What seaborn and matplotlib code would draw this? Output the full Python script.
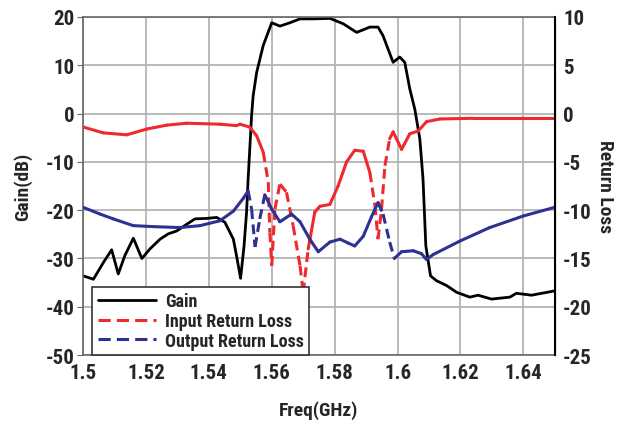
import numpy as np
import pandas as pd
import seaborn as sns
import matplotlib
matplotlib.use('Agg')
import matplotlib.pyplot as plt
from matplotlib.lines import Line2D
from matplotlib import font_manager

# ---- data ----
gain_freq = [1.5001, 1.5033, 1.5065, 1.5091, 1.5112, 1.5133, 1.5160, 1.5187, 1.5213,
             1.5245, 1.5271, 1.5298, 1.5330, 1.5356, 1.5393, 1.5425, 1.5451, 1.5478,
             1.5488, 1.5501, 1.5512, 1.5520, 1.5525, 1.5536, 1.5541, 1.5552, 1.5573,
             1.5600, 1.5626, 1.5658, 1.5690, 1.5732, 1.5785, 1.5827, 1.5870, 1.5912,
             1.5938, 1.5954, 1.5986, 1.6007, 1.6023, 1.6039, 1.6055, 1.6071, 1.6081,
             1.6090, 1.6105, 1.6124, 1.6156, 1.6188, 1.6230, 1.6256, 1.6299, 1.6357,
             1.6378, 1.6426, 1.6500]
gain_db = [-33.6, -34.3, -30.8, -28.2, -33.2, -29.4, -25.8, -30.0, -28.0,
           -26.0, -24.9, -24.3, -22.9, -21.8, -21.7, -21.5, -22.5, -26.0,
           -29.4, -34.1, -27.4, -20.4, -13.5, -0.4, 3.7, 8.5, 14.1,
           18.8, 18.1, 18.8, 19.6, 19.6, 19.7, 18.6, 16.8, 17.9,
           17.9, 16.1, 10.6, 11.7, 10.6, 5.1, 0.9, -5.3, -13.5,
           -27.4, -33.6, -34.6, -35.6, -37.0, -38.0, -37.6, -38.4, -38.0,
           -37.2, -37.6, -36.7]

irl_freq = [1.5001, 1.5065, 1.5139, 1.5203, 1.5266, 1.5330, 1.5435, 1.5488, 1.5499,
            1.5530, 1.5552, 1.5573, 1.5589, 1.5594, 1.5600, 1.5610, 1.5626, 1.5647,
            1.5668, 1.5690, 1.5700, 1.5716, 1.5737, 1.5753, 1.5785, 1.5811, 1.5838,
            1.5864, 1.5891, 1.5912, 1.5928, 1.5938, 1.5949, 1.5960, 1.5975, 1.5986,
            1.6013, 1.6039, 1.6066, 1.6092, 1.6135, 1.6240, 1.6500]
irl_db = [-1.4, -2.0, -2.2, -1.6, -1.2, -1.0, -1.1, -1.25, -1.1,
          -1.4, -2.3, -4.0, -7.1, -12.3, -15.75, -9.9, -7.3, -8.15,
          -11.6, -15.75, -18.5, -14.0, -10.2, -9.6, -9.4, -7.5, -5.0,
          -3.8, -3.9, -6.1, -9.5, -13.0, -9.9, -5.4, -2.6, -1.9,
          -3.7, -2.1, -1.8, -0.84, -0.56, -0.49, -0.49]
irl_dashed = [(1.5573, 1.5716), (1.5912, 1.5975)]

orl_freq = [1.5000, 1.5054, 1.5096, 1.5160, 1.5223, 1.5308, 1.5372, 1.5435, 1.5478,
            1.5509, 1.5525, 1.5536, 1.5547, 1.5562, 1.5578, 1.5600, 1.5626, 1.5663,
            1.5690, 1.5721, 1.5748, 1.5785, 1.5817, 1.5843, 1.5864, 1.5891, 1.5917,
            1.5938, 1.5954, 1.5975, 1.5990, 1.6013, 1.6050, 1.6076, 1.6092, 1.6113,
            1.6198, 1.6293, 1.6400, 1.6500]
orl_db = [-9.7, -10.4, -10.9, -11.6, -11.7, -11.8, -11.6, -11.1, -10.1,
          -8.8, -8.0, -9.9, -13.8, -10.9, -8.4, -9.9, -11.2, -10.4,
          -11.2, -13.0, -14.3, -13.3, -13.0, -13.4, -13.7, -12.7, -10.7,
          -9.2, -10.4, -13.3, -15.0, -14.3, -14.2, -14.5, -15.1, -14.6,
          -13.2, -11.8, -10.6, -9.7]
orl_dashed = [(1.5525, 1.5578), (1.5938, 1.5990)]

x_ticks = [1.5, 1.52, 1.54, 1.56, 1.58, 1.6, 1.62, 1.64]
x_ticklabels = ['1.5', '1.52', '1.54', '1.56', '1.58', '1.6', '1.62', '1.64']

RED = '#ee2a2e'
BLUE = '#2e3192'
DASH = (0, (3.2, 1.8))
W = 'heavy'

sns.set_style('white')
# pick the narrowest bold family that is installed
wanted = ['Liberation Sans Narrow', 'Roboto Condensed', 'Open Sans Condensed',
          'Roboto', 'Liberation Sans']
have = {f.name for f in font_manager.fontManager.ttflist}
fams = [f for f in wanted if f in have][:1] + ['DejaVu Sans']
plt.rcParams['font.family'] = fams
plt.rcParams['font.weight'] = W
plt.rcParams['axes.unicode_minus'] = False


def draw_segments(ax, freq, vals, dashed, color):
    # split a series into runs, dashed where the reference shows dashes
    df = pd.DataFrame({'f': freq, 'v': vals})
    n = len(df)
    for i in range(n - 1):
        f0, f1 = df.f[i], df.f[i + 1]
        is_dash = any(a <= f0 and f1 <= b for a, b in dashed)
        seg = df.iloc[i:i + 2]
        sns.lineplot(data=seg, x='f', y='v', ax=ax, color=color, lw=2.2,
                     linestyle=DASH if is_dash else '-', sort=False,
                     estimator=None, solid_capstyle='round',
                     dash_capstyle='butt')


fig = plt.figure(figsize=(6.29, 4.27), dpi=100)
ax = fig.add_axes([0.132, 0.166, 0.75, 0.792])
ax2 = ax.twinx()

sns.lineplot(x=gain_freq, y=gain_db, ax=ax, color='black', lw=2.0,
             sort=False, estimator=None)
draw_segments(ax2, irl_freq, irl_db, irl_dashed, RED)
draw_segments(ax2, orl_freq, orl_db, orl_dashed, BLUE)

ax.set_xlim(1.5, 1.65)
ax.set_ylim(-50, 20)
ax2.set_ylim(-25, 10)
ax.set_xticks(x_ticks)
ax.set_xticklabels(x_ticklabels)
ax.set_yticks(range(-50, 21, 10))
ax2.set_yticks(range(-25, 11, 5))

ax.grid(True, color='#b4b4b4', lw=1.3)
ax.set_axisbelow(True)
for s in ['left', 'bottom', 'top']:
    ax.spines[s].set_color('#666666')
    ax.spines[s].set_linewidth(1.2)
ax2.spines['right'].set_color('black')
ax2.spines['right'].set_linewidth(1.5)
for s in ['left', 'bottom', 'top']:
    ax2.spines[s].set_visible(False)

ax.tick_params(axis='both', labelsize=15, length=4, color='#666666', pad=2)
ax2.tick_params(axis='y', labelsize=15, length=0, pad=6)
for lab in ax.get_xticklabels() + ax.get_yticklabels() + ax2.get_yticklabels():
    lab.set_fontweight(W)

ax.set_xlabel('Freq(GHz)', fontsize=14, fontweight=W, labelpad=13)
ax.set_ylabel('Gain(dB)', fontsize=14, fontweight=W, labelpad=10)
ax2.set_ylabel('Return Loss', fontsize=14, fontweight=W, rotation=-90,
               labelpad=16)

handles = [Line2D([], [], color='black', lw=2.0),
           Line2D([], [], color=RED, lw=2.2, linestyle=(0, (4, 2))),
           Line2D([], [], color=BLUE, lw=2.2, linestyle=(0, (4, 2)))]
labels = ['Gain', 'Input Return Loss', 'Output Return Loss']
leg = ax2.legend(handles, labels, loc='lower left', bbox_to_anchor=(0.02, 0.0),
                 borderaxespad=0, frameon=True, fancybox=False, framealpha=1,
                 edgecolor='#333333', handlelength=3.2, handletextpad=0.5,
                 borderpad=0.3, labelspacing=0.1,
                 prop={'weight': W, 'size': 13})
leg.get_frame().set_linewidth(1.2)

fig.savefig('out.png', dpi=100)
